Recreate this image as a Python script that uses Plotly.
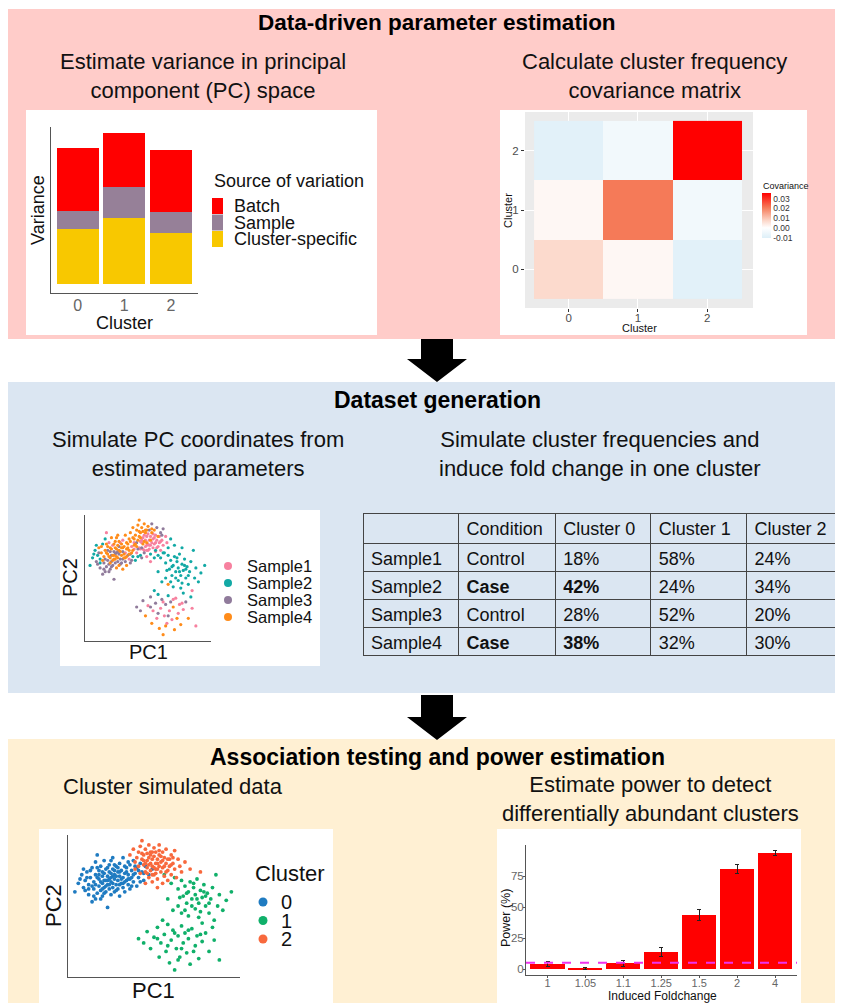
import plotly.graph_objects as go

# The page body has an 8px margin, so the figure is drawn 8px in from the top-left corner.
OFF = 8
W, H = 843 - OFF, 1003 - OFF
FONT = "Liberation Sans, Arial, Helvetica, sans-serif"

# ---------------- Data ----------------
var_clusters = [0, 1, 2]
var_cluster_specific = [55, 66, 51]
var_sample = [18, 31, 21]
var_batch = [63, 54, 62]

cov_clusters = [0, 1, 2]
cov_matrix = [[0.007, 0.0015, -0.009],
              [0.0015, 0.021, -0.004],
              [-0.009, -0.004, 0.036]]
cov_ticks = [-0.01, 0.0, 0.01, 0.02, 0.03]

# simulated PC coordinates: (PC1, PC2, sample id)
pc_cluster0 = [
    (4, 60, 2), (6, 66, 2), (8, 72, 2), (9, 63, 3), (10, 68, 2), (11, 74, 4), (12, 58, 3), (12, 65, 2), (13, 70, 4), (14, 53, 3),
    (14, 77, 2), (15, 62, 3), (15, 67, 4), (16, 72, 4), (16, 81, 2), (17, 86, 1), (17, 59, 3), (18, 64, 3), (18, 69, 4), (18, 75, 4),
    (19, 61, 3), (19, 78, 1), (20, 66, 4), (20, 71, 3), (20, 57, 3), (21, 73, 4), (21, 63, 3), (21, 82, 4), (22, 68, 4), (22, 76, 1),
    (22, 60, 3), (23, 49, 3), (23, 65, 4), (23, 71, 3), (24, 74, 4), (24, 62, 3), (24, 79, 4), (25, 67, 4), (25, 58, 4), (25, 70, 3),
    (26, 63, 3), (26, 76, 4), (26, 84, 4), (27, 69, 3), (27, 72, 4), (27, 60, 4), (28, 65, 3), (28, 78, 1), (29, 74, 4), (29, 62, 3),
    (29, 68, 4), (30, 71, 3), (30, 57, 4), (30, 80, 1), (31, 66, 4), (31, 75, 4), (32, 63, 3), (32, 70, 1), (32, 84, 4), (33, 73, 4),
    (33, 60, 4), (34, 68, 3), (34, 77, 4), (35, 65, 1), (35, 72, 4), (36, 79, 4), (36, 62, 3), (37, 70, 4), (37, 75, 1), (38, 67, 2),
    (38, 82, 4), (39, 73, 1), (40, 64, 2), (40, 77, 4), (41, 70, 1), (42, 80, 4), (43, 74, 1), (44, 68, 2), (45, 78, 1), (47, 72, 1),
    (49, 76, 1), (7, 69, 2), (10, 61, 3), (13, 75, 4), (15, 57, 3), (16, 65, 3), (17, 70, 4), (19, 67, 4), (20, 74, 4), (21, 68, 3),
    (22, 64, 4), (23, 77, 4), (24, 69, 3), (25, 73, 4), (26, 66, 4), (27, 79, 4), (28, 71, 4), (28, 61, 3), (30, 65, 3), (31, 69, 4),
    (33, 67, 4), (34, 74, 4), (35, 81, 4), (36, 69, 3), (38, 72, 4), (39, 78, 1), (41, 75, 4), (42, 67, 2), (44, 73, 1), (17, 77, 4),
    (19, 55, 3), (11, 70, 3), (14, 64, 4), (18, 72, 3), (20, 62, 4), (23, 68, 4), (26, 71, 3), (29, 77, 4), (32, 66, 4), (35, 69, 4),
    (37, 64, 3), (24, 65, 4), (27, 75, 3), (30, 74, 4), (33, 78, 4), (21, 59, 3), (12, 62, 2), (9, 76, 2), (25, 82, 4), (16, 55, 3),
]
pc_cluster1 = [
    (56, 72, 2), (60, 66, 2), (62, 70, 2), (64, 62, 2), (66, 68, 2), (67, 57, 2), (68, 64, 2), (69, 52, 2), (70, 60, 2), (71, 67, 2),
    (72, 55, 2), (73, 63, 2), (74, 48, 2), (74, 58, 2), (75, 69, 2), (76, 52, 2), (77, 61, 2), (78, 56, 2), (79, 65, 2), (80, 50, 2),
    (81, 59, 2), (82, 45, 2), (83, 55, 2), (84, 63, 2), (86, 72, 2), (87, 50, 2), (88, 58, 2), (90, 47, 2), (92, 54, 2), (95, 60, 2),
    (64, 50, 2), (66, 45, 4), (70, 43, 2), (76, 42, 2), (58, 55, 2), (61, 47, 2), (85, 40, 1), (78, 38, 2),
    (65, 56, 2), (69, 59, 2), (72, 50, 2), (75, 55, 2), (79, 60, 2), (82, 52, 2), (68, 47, 2), (73, 66, 2), (77, 46, 2), (80, 57, 2),
    (41, 27, 3), (44, 24, 3), (46, 32, 3), (48, 20, 4), (50, 28, 1), (52, 35, 3), (53, 14, 4), (54, 24, 1), (56, 30, 3), (57, 18, 1),
    (58, 37, 2), (59, 10, 4), (60, 26, 1), (61, 33, 3), (62, 5, 4), (63, 20, 1), (64, 29, 3), (65, 14, 1), (66, 36, 2), (67, 24, 1),
    (68, 31, 3), (69, 17, 1), (70, 27, 4), (71, 9, 4), (72, 34, 1), (74, 22, 1), (75, 29, 1), (76, 13, 4), (78, 25, 1), (80, 31, 3),
    (82, 18, 4), (85, 26, 1), (88, 12, 1), (84, 35, 2), (55, 40, 2),
    (58, 22, 3), (62, 31, 1), (66, 20, 3), (70, 33, 1), (73, 18, 4), (77, 30, 1), (64, 12, 4), (52, 27, 3),
]
pc_cluster2 = [
    (36, 86, 4), (38, 90, 4), (39, 81, 4), (40, 84, 4), (41, 78, 3), (41, 88, 4), (42, 92, 4), (43, 83, 4), (43, 96, 4), (44, 79, 1),
    (44, 86, 4), (45, 74, 3), (45, 90, 4), (46, 82, 1), (46, 77, 4), (46, 87, 4), (47, 70, 3), (47, 84, 1), (47, 93, 4), (48, 80, 1),
    (48, 75, 1), (48, 88, 4), (49, 67, 1), (49, 83, 1), (49, 78, 4), (50, 85, 1), (50, 72, 1), (50, 91, 4), (51, 80, 1), (51, 76, 1),
    (51, 88, 3), (52, 63, 1), (52, 83, 1), (52, 69, 2), (53, 78, 1), (53, 86, 4), (53, 93, 3), (54, 74, 1), (54, 81, 1), (55, 88, 4),
    (55, 66, 2), (55, 77, 1), (56, 84, 1), (56, 71, 1), (57, 80, 1), (57, 90, 3), (58, 75, 1), (58, 68, 2), (59, 83, 1), (59, 78, 1),
    (60, 86, 3), (60, 72, 1), (61, 80, 1), (62, 76, 1), (62, 89, 3), (63, 70, 2), (64, 83, 1), (65, 78, 1), (66, 74, 2), (68, 81, 2),
    (71, 76, 2), (77, 74, 2), (45, 66, 3), (42, 73, 3), (39, 76, 4),
    (44, 82, 4), (46, 73, 1), (48, 86, 4), (50, 77, 1), (52, 80, 4), (54, 85, 1), (56, 78, 1), (58, 83, 4), (60, 79, 1), (47, 79, 4),
    (51, 73, 1), (53, 89, 4), (57, 74, 1), (61, 84, 3), (49, 88, 4), (43, 87, 4), (45, 80, 1), (49, 72, 1), (52, 76, 1), (55, 82, 1),
]

sample_names = ["Sample1", "Sample2", "Sample3", "Sample4"]
cluster_names = ["0", "1", "2"]

table_samples = ["Sample1", "Sample2", "Sample3", "Sample4"]
table_condition = ["Control", "Case", "Control", "Case"]
table_cluster0 = [18, 42, 28, 38]
table_cluster1 = [58, 24, 52, 32]
table_cluster2 = [24, 34, 20, 30]
table_header = ["", "Condition", "Cluster 0", "Cluster 1", "Cluster 2"]

fold_changes = ["1", "1.05", "1.1", "1.25", "1.5", "2", "4"]
power_pct = [3.8, 0.8, 4.6, 13.5, 43.8, 80.9, 93.3]
power_err = [2.0, 0.8, 2.5, 3.6, 4.4, 3.5, 2.1]
alpha_pct = 5

# ---------------- Styles ----------------
C_PINK_BG = "#FFCCC9"
C_BLUE_BG = "#DBE6F2"
C_YEL_BG = "#FFF0D3"
VAR_COLORS = {"Batch": "#FF0000", "Sample": "#968098", "Cluster-specific": "#F8C800"}
SAMPLE_COLORS = ["#F7819F", "#12A9A5", "#907B9B", "#FF8C1A"]
CLUSTER_COLORS = ["#1F7BC1", "#10B06A", "#F8693D"]
AXIS_GRAY = "#4D4D4D"
TITLE_SIZE = 23
SUB_SIZE = 22


def X(p):
    return (p - OFF) / W


def Y(p):
    return 1 - (p - OFF) / H


def dom_x(a, b):
    return [X(a), X(b)]


def dom_y(top, bottom):
    return [Y(bottom), Y(top)]


annotations = []


def txt(x, y, s, size, color="#111111", xanchor="center", angle=0, yanchor="middle"):
    annotations.append(dict(x=X(x), y=Y(y), xref="paper", yref="paper", text=s, showarrow=False,
                            font=dict(family=FONT, size=size, color=color), xanchor=xanchor,
                            yanchor=yanchor, textangle=angle))


shapes = []


def rect(x0, y0, x1, y1, color, layer="below"):
    shapes.append(dict(type="rect", xref="paper", yref="paper", x0=X(x0), x1=X(x1), y0=Y(y1), y1=Y(y0),
                       fillcolor=color, line=dict(width=0), layer=layer))


def dot(cx, cy, r, color):
    shapes.append(dict(type="circle", xref="paper", yref="paper", x0=X(cx - r), x1=X(cx + r),
                       y0=Y(cy + r), y1=Y(cy - r), fillcolor=color, line=dict(width=0), layer="above"))


def arrow(cx, top, neck, tip, shaft_half, head_half):
    pts = [(cx - shaft_half, top), (cx + shaft_half, top), (cx + shaft_half, neck), (cx + head_half, neck),
           (cx, tip), (cx - head_half, neck), (cx - shaft_half, neck)]
    path = "M " + " L ".join(f"{X(a):.5f},{Y(b):.5f}" for a, b in pts) + " Z"
    shapes.append(dict(type="path", xref="paper", yref="paper", path=path, fillcolor="black",
                       line=dict(width=0), layer="above"))


# panels
rect(7, 9, 843, 339, C_PINK_BG)
rect(7, 382, 843, 693, C_BLUE_BG)
rect(7, 739, 843, 1003, C_YEL_BG)
# white chart boxes
rect(26, 110, 377, 335, "white")
rect(500, 110, 807, 335, "white")
rect(60, 510, 320, 666, "white")
rect(39, 829, 333, 1003, "white")
rect(497, 829, 801, 1003, "white")
# arrows
arrow(437, 339, 359, 382, 16, 30)
arrow(437, 695, 717, 740, 16, 30)

# ---------------- Titles ----------------
txt(437, 22, "<b>Data-driven parameter estimation</b>", 22.5, color="black")
txt(203, 76, "Estimate variance in principal<br>component (PC) space", SUB_SIZE)
txt(654, 76, "Calculate cluster frequency<br>covariance matrix", SUB_SIZE)
txt(437, 400, "<b>Dataset generation</b>", TITLE_SIZE, color="black")
txt(198, 454, "Simulate PC coordinates from<br>estimated parameters", SUB_SIZE)
txt(600, 454, "Simulate cluster frequencies and<br>induce fold change in one cluster", SUB_SIZE)
txt(437, 757, "<b>Association testing and power estimation</b>", TITLE_SIZE, color="black")
txt(173, 786, "Cluster simulated data", SUB_SIZE)
txt(650, 799, "Estimate power to detect<br>differentially abundant clusters", SUB_SIZE)

fig = go.Figure()

# ---------------- A: variance stacked bars ----------------
for name, vals in [("Cluster-specific", var_cluster_specific), ("Sample", var_sample), ("Batch", var_batch)]:
    fig.add_trace(go.Bar(x=var_clusters, y=vals, name=name, marker=dict(color=VAR_COLORS[name], line=dict(width=0)),
                         width=0.9, xaxis="x", yaxis="y", showlegend=False))
txt(38, 210, "Variance", 18, angle=-90)
txt(124, 323, "Cluster", 18)
txt(212, 181, "Source of variation", 18, xanchor="left")
for i, name in enumerate(["Batch", "Sample", "Cluster-specific"]):
    rect(212, 198 + i * 16.5, 223, 214 + i * 16.5, VAR_COLORS[name], layer="above")
    txt(232, 206 + i * 16.5, name, 18, xanchor="left")

# ---------------- B: covariance heatmap ----------------
zmin, zmax = -0.0105, 0.036
span = zmax - zmin
colorscale = [[0.0, "#DDEFF8"], [(0 - zmin) / span, "#FFFFFF"], [(0.007 - zmin) / span, "#FCDACD"],
              [(0.021 - zmin) / span, "#F57A58"], [1.0, "#FF0000"]]
fig.add_trace(go.Heatmap(x=cov_clusters, y=cov_clusters, z=cov_matrix, colorscale=colorscale, zmin=zmin, zmax=zmax,
                         xaxis="x2", yaxis="y2",
                         colorbar=dict(x=X(762), xanchor="left", y=Y(193), yanchor="top", len=45, lenmode="pixels",
                                       thickness=9, thicknessmode="pixels", outlinewidth=0, xpad=0, ypad=0,
                                       tickvals=cov_ticks, ticktext=[f"{v:.2f}" for v in cov_ticks],
                                       tickfont=dict(family=FONT, size=8.5, color="#333"), ticks="")))
shapes.append(dict(type="rect", xref="x2 domain", yref="y2 domain", x0=0, x1=1, y0=0, y1=1,
                   fillcolor="#EBEBEB", line=dict(width=0), layer="below"))
txt(761, 186, "Covariance", 9, xanchor="left")
txt(639, 328, "Cluster", 11)
txt(508, 210, "Cluster", 11, angle=-90)

# ---------------- C: samples scatter ----------------
all_pts = pc_cluster0 + pc_cluster1 + pc_cluster2
for s, name in enumerate(sample_names, start=1):
    pts = [p for p in all_pts if p[2] == s]
    fig.add_trace(go.Scatter(x=[p[0] for p in pts], y=[p[1] for p in pts], mode="markers", name=name,
                             marker=dict(color=SAMPLE_COLORS[s - 1], size=3.2, line=dict(width=0)),
                             xaxis="x3", yaxis="y3", showlegend=False))
txt(70, 578, "PC2", 20, angle=-90)
txt(148, 652, "PC1", 20)
for i, name in enumerate(sample_names):
    dot(228, 566 + i * 17, 4, SAMPLE_COLORS[i])
    txt(245, 566 + i * 17, name, 16.5, xanchor="left")

# ---------------- D: table (base table + overlay for the bold 'Case' cells) ----------------
is_case = [c == "Case" for c in table_condition]
cond_plain = ["" if b else c for c, b in zip(table_condition, is_case)]
cond_bold = [c if b else "" for c, b in zip(table_condition, is_case)]
c0_plain = ["" if b else f"{v}%" for v, b in zip(table_cluster0, is_case)]
c0_bold = [f"{v}%" if b else "" for v, b in zip(table_cluster0, is_case)]
blank = [""] * len(table_samples)
tbl_domain = dict(x=[X(363), X(842)], y=[Y(668), Y(513)])
tbl_widths = [96, 97, 96, 96, 95]
fig.add_trace(go.Table(
    domain=tbl_domain, columnwidth=tbl_widths,
    header=dict(values=table_header, height=30, align="left",
                fill=dict(color="rgba(0,0,0,0)"), line=dict(color="#444", width=1),
                font=dict(family=FONT, size=18, color="#111")),
    cells=dict(values=[table_samples, cond_plain, c0_plain,
                       [f"{v}%" for v in table_cluster1], [f"{v}%" for v in table_cluster2]],
               height=28, align="left", fill=dict(color="rgba(0,0,0,0)"), line=dict(color="#444", width=1),
               font=dict(family=FONT, size=18, color="#111"))))
fig.add_trace(go.Table(
    domain=tbl_domain, columnwidth=tbl_widths,
    header=dict(values=[""] * 5, height=30, align="left",
                fill=dict(color="rgba(0,0,0,0)"), line=dict(color="rgba(0,0,0,0)", width=0),
                font=dict(family=FONT, size=18, color="#111")),
    cells=dict(values=[blank, cond_bold, c0_bold, blank, blank],
               height=28, align="left", fill=dict(color="rgba(0,0,0,0)"), line=dict(color="rgba(0,0,0,0)", width=0),
               font=dict(family=FONT, size=18, color="#111", weight="bold"))))

# ---------------- E: clusters scatter ----------------
for k, pts in enumerate([pc_cluster0, pc_cluster1, pc_cluster2]):
    fig.add_trace(go.Scatter(x=[p[0] for p in pts], y=[p[1] for p in pts], mode="markers", name=cluster_names[k],
                             marker=dict(color=CLUSTER_COLORS[k], size=3.8, line=dict(width=0)),
                             xaxis="x4", yaxis="y4", showlegend=False))
txt(53, 906, "PC2", 22, angle=-90)
txt(153, 990, "PC1", 22)
txt(253, 873, "Cluster", 22, xanchor="left")
for i, name in enumerate(cluster_names):
    dot(263, 902 + i * 18.5, 4.5, CLUSTER_COLORS[i])
    txt(279, 902 + i * 18.5, name, 20, xanchor="left")

# ---------------- F: power bars ----------------
fig.add_trace(go.Bar(x=fold_changes, y=power_pct, marker=dict(color="#FF0000", line=dict(width=0)), width=0.9,
                     error_y=dict(type="data", array=power_err, visible=True, color="#222", thickness=1, width=2),
                     xaxis="x5", yaxis="y5", showlegend=False))
shapes.append(dict(type="line", xref="x5 domain", yref="y5", x0=0, x1=1, y0=alpha_pct, y1=alpha_pct,
                   line=dict(color="#EE33EE", width=2, dash="dash"), layer="above"))
txt(506, 918, "Power (%)", 12.5, angle=-90)
txt(662, 996, "Induced Foldchange", 12)

# ---------------- Layout ----------------
noax = dict(showgrid=False, zeroline=False, showticklabels=False, ticks="", showline=True,
            linecolor="#555", linewidth=1)
fig.update_layout(
    width=W, height=H, margin=dict(l=0, r=0, t=0, b=0), autosize=False,
    paper_bgcolor="white", plot_bgcolor="rgba(0,0,0,0)",
    barmode="stack", showlegend=False,
    font=dict(family=FONT),
    xaxis=dict(domain=dom_x(51, 198), range=[-0.57, 2.58], tickvals=var_clusters,
               ticktext=[str(c) for c in var_clusters], showgrid=False, zeroline=False, showline=True,
               linecolor="#555", linewidth=1, ticks="", ticklabelstandoff=-2,
               tickfont=dict(family=FONT, size=16, color="#666"), anchor="y"),
    yaxis=dict(domain=dom_y(127, 293), range=[-9, 157], anchor="x", **noax),
    xaxis2=dict(domain=dom_x(525, 753), range=[-0.63, 2.66], tickvals=cov_clusters,
                showgrid=True, gridcolor="white", gridwidth=1, zeroline=False, showline=False,
                ticks="outside", ticklen=3, tickcolor="#333", ticklabelstandoff=-4,
                tickfont=dict(family=FONT, size=11.5, color=AXIS_GRAY), anchor="y2"),
    yaxis2=dict(domain=dom_y(112, 308), range=[-0.65, 2.65], tickvals=cov_clusters,
                showgrid=True, gridcolor="white", gridwidth=1, zeroline=False, showline=False,
                ticks="outside", ticklen=3, tickcolor="#333",
                tickfont=dict(family=FONT, size=11.5, color=AXIS_GRAY), anchor="x2"),
    xaxis3=dict(domain=dom_x(85, 211), range=[0, 100], anchor="y3", **noax),
    yaxis3=dict(domain=dom_y(515, 641), range=[0, 100], anchor="x3", **noax),
    xaxis4=dict(domain=dom_x(68, 240), range=[0, 100], anchor="y4", **noax),
    yaxis4=dict(domain=dom_y(835, 977), range=[0, 100], anchor="x4", **noax),
    xaxis5=dict(domain=dom_x(526, 797), type="category", range=[-0.567, 6.58], showgrid=False, zeroline=False,
                showline=True, linecolor="#555", linewidth=1, ticks="outside", ticklen=2, tickcolor="#555",
                ticklabelstandoff=-4, tickfont=dict(family=FONT, size=11, color="#666"), anchor="y5"),
    yaxis5=dict(domain=dom_y(845, 975), range=[-4.8, 100], tickvals=[0, 25, 50, 75], showgrid=False,
                zeroline=False, showline=True, linecolor="#555", linewidth=1, ticks="outside", ticklen=2,
                ticklabelstandoff=-3, tickcolor="#555", tickfont=dict(family=FONT, size=11.5, color="#666"),
                anchor="x5"),
    shapes=shapes,
    annotations=annotations,
)

fig.write_html("out.html")
